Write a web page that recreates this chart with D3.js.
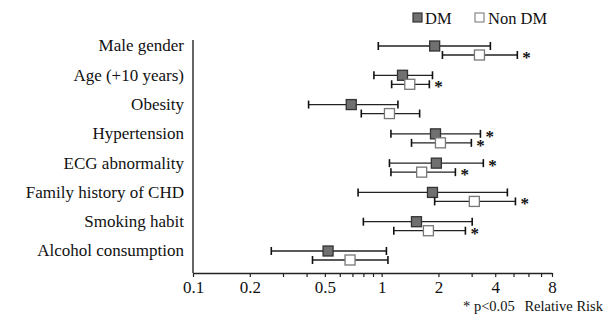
<!DOCTYPE html>
<html><head><meta charset="utf-8">
<script src="https://cdn.jsdelivr.net/npm/d3@7"></script>
<style>body{margin:0;background:#fff}svg{display:block}text{font-family:"Liberation Serif","DejaVu Serif",serif;fill:#111}</style>
</head><body><svg id="c" width="614" height="320"></svg>
<script>
const categories = ["Male gender","Age (+10 years)","Obesity","Hypertension","ECG abnormality","Family history of CHD","Smoking habit","Alcohol consumption"];
const dmRR   = [1.91, 1.29, 0.69, 1.93, 1.95, 1.86, 1.53, 0.52];
const dmLow  = [0.96, 0.91, 0.41, 1.12, 1.10, 0.75, 0.80, 0.26];
const dmHigh = [3.77, 1.86, 1.22, 3.34, 3.46, 4.64, 3.02, 1.06];
const dmSig  = [false,false,false,true,true,false,false,false];
const ndRR   = [3.30, 1.41, 1.10, 2.05, 1.63, 3.10, 1.77, 0.68];
const ndLow  = [2.10, 1.13, 0.78, 1.44, 1.12, 1.91, 1.16, 0.43];
const ndHigh = [5.24, 1.79, 1.59, 2.99, 2.46, 5.12, 2.78, 1.08];
const ndSig  = [true,true,false,true,true,true,true,false];
const tickValues = [0.1,0.2,0.3,0.4,0.5,0.6,0.7,0.8,0.9,1,2,3,4,5,6,7,8];
const tickLabels = [0.1,0.2,0.5,1,2,4,8];
const seriesNames = ["DM","Non DM"];

const svg = d3.select("#c");
const x = d3.scaleLog().domain([0.1, 8]).range([193, 552]);
const y = d3.scalePoint().domain(categories).range([46, 251]);
const off = 9;
const axisY = 273;

// y axis line
svg.append("line").attr("x1",193).attr("x2",193).attr("y1",40).attr("y2",axisY)
  .attr("stroke","#333").attr("stroke-width",1.5);

// x axis
const xa = svg.append("g").attr("transform",`translate(0,${axisY})`)
  .call(d3.axisBottom(x).tickValues(tickValues).tickSize(4).tickSizeOuter(0)
    .tickFormat(d => tickLabels.includes(d) ? String(d) : ""));
xa.select(".domain").attr("stroke","#222").attr("stroke-width",1.5);
xa.selectAll(".tick line").attr("stroke","#222").attr("stroke-width",1.2);
xa.selectAll(".tick text").attr("font-size",17).attr("font-family","Liberation Serif").attr("fill","#111").attr("dy","0.75em");

// category labels
svg.append("g").selectAll("text").data(categories).join("text")
  .attr("x",184).attr("y",d=>y(d)).attr("dy","0.32em").attr("text-anchor","end")
  .attr("font-size",17).text(d=>d);

function series(rr, lo, hi, sig, dy, fill, stroke){
  const g = svg.append("g");
  categories.forEach((c,i)=>{
    const yy = y(c)+dy;
    g.append("line").attr("x1",x(lo[i])).attr("x2",x(hi[i])).attr("y1",yy).attr("y2",yy)
      .attr("stroke","#222").attr("stroke-width",1.3);
    [lo[i],hi[i]].forEach(v=>{
      g.append("line").attr("x1",x(v)).attr("x2",x(v)).attr("y1",yy-4).attr("y2",yy+4)
        .attr("stroke","#111").attr("stroke-width",1.6);
    });
    g.append("rect").attr("x",x(rr[i])-5).attr("y",yy-5).attr("width",10).attr("height",10)
      .attr("fill",fill).attr("stroke",stroke).attr("stroke-width",1.3);
    if(sig[i]) g.append("text").attr("x",x(hi[i])+5).attr("y",yy+8).attr("font-size",17)
      .attr("font-weight","bold").attr("fill","#111").text("*");
  });
}
series(dmRR, dmLow, dmHigh, dmSig, 0, "#707070", "#333");
series(ndRR, ndLow, ndHigh, ndSig, off, "#fff", "#777");

// legend
const leg = svg.append("g");
leg.append("rect").attr("x",413).attr("y",13).attr("width",9).attr("height",9).attr("fill","#707070").attr("stroke","#333").attr("stroke-width",1.2);
leg.append("text").attr("x",425).attr("y",18).attr("dy","0.35em").attr("font-size",16.5).text(seriesNames[0]);
leg.append("rect").attr("x",475).attr("y",13).attr("width",9).attr("height",9).attr("fill","#fff").attr("stroke","#888").attr("stroke-width",1.2);
leg.append("text").attr("x",488).attr("y",18).attr("dy","0.35em").attr("font-size",16.5).text(seriesNames[1]);

// footnote
svg.append("text").attr("x",463).attr("y",311).attr("font-size",14.5).text("* p<0.05");
svg.append("text").attr("x",603).attr("y",311).attr("text-anchor","end").attr("font-size",14.5).text("Relative Risk");
</script></body></html>
